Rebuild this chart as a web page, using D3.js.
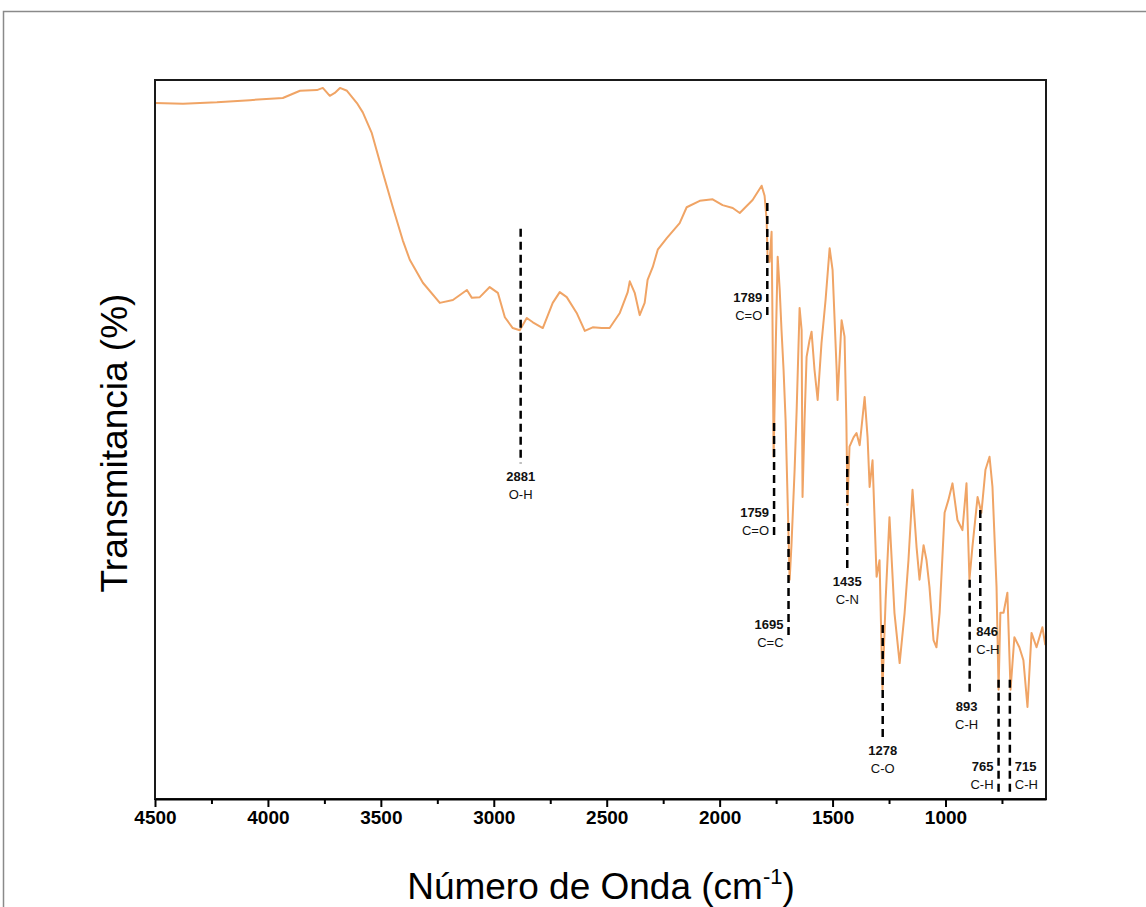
<!DOCTYPE html>
<html>
<head>
<meta charset="utf-8">
<script src="https://cdn.jsdelivr.net/npm/d3@7"></script>
<style>
  body { margin: 0; background: #fff; }
  svg { font-family: "Liberation Sans", Arial, sans-serif; }
</style>
</head>
<body>
<svg id="ftir"></svg>
<script>
let width = 1146
let height = 907
let margin = {top: 80, right: 100, bottom: 108, left: 155}

// spectrum: [wavenumber cm-1, transmittance %]
let spectrum = [
  [4500, 96.8], [4376, 96.7], [4226, 96.9], [4080, 97.2], [3934, 97.5], [3858, 98.5],
  [3783, 98.6], [3757, 98.9], [3726, 97.8], [3704, 98.2], [3681, 98.9], [3650, 98.5],
  [3606, 96.8], [3580, 95.5], [3540, 92.6], [3491, 87.1], [3447, 82.3], [3403, 77.7],
  [3372, 75.0], [3314, 71.8], [3239, 69.0], [3181, 69.4], [3119, 70.8], [3097, 69.7],
  [3062, 69.8], [3018, 71.2], [2982, 70.4], [2951, 67.0], [2916, 65.5], [2885, 65.2],
  [2854, 66.9], [2827, 66.3], [2783, 65.5], [2739, 69.0], [2708, 70.5], [2677, 69.8],
  [2633, 67.6], [2597, 65.1], [2562, 65.6], [2522, 65.5], [2487, 65.5], [2442, 67.6],
  [2407, 70.5], [2398, 72.0], [2376, 70.4], [2354, 67.3], [2332, 69.0], [2319, 72.2],
  [2296, 74.0], [2274, 76.4], [2234, 78.0], [2177, 80.1], [2146, 82.3], [2088, 83.2],
  [2031, 83.4], [1987, 82.6], [1942, 82.2], [1911, 81.5], [1854, 83.3], [1814, 85.3],
  [1801, 83.9], [1792, 80.5], [1788, 75.7], [1779, 74.7], [1770, 78.9], [1766, 66.6],
  [1761, 47.6], [1752, 62.4], [1743, 75.4], [1734, 70.8], [1726, 65.2], [1717, 59.7],
  [1708, 52.7], [1699, 41.6], [1690, 30.5], [1682, 35.3], [1668, 45.8], [1659, 54.1],
  [1646, 68.3], [1637, 65.2], [1633, 42.0], [1624, 52.7], [1615, 61.5], [1602, 63.8],
  [1593, 65.0], [1580, 59.7], [1566, 55.5], [1549, 63.4], [1531, 69.4], [1513, 76.6],
  [1500, 73.6], [1482, 59.7], [1478, 55.5], [1460, 66.6], [1447, 64.3], [1439, 52.7],
  [1434, 40.9], [1425, 49.0], [1407, 50.3], [1394, 50.9], [1380, 49.2], [1358, 55.9],
  [1345, 50.3], [1336, 43.4], [1323, 47.1], [1305, 30.9], [1292, 33.2], [1279, 15.2],
  [1265, 27.7], [1248, 39.2], [1226, 25.9], [1203, 18.9], [1181, 25.9], [1164, 33.2],
  [1146, 43.0], [1128, 35.0], [1115, 30.5], [1097, 35.3], [1084, 33.2], [1071, 29.5],
  [1053, 22.1], [1040, 21.1], [1026, 25.9], [1004, 39.8], [987, 41.6], [969, 43.9],
  [947, 38.8], [925, 37.4], [907, 43.9], [894, 30.5], [881, 35.0], [858, 42.0],
  [841, 39.8], [823, 45.8], [805, 47.6], [792, 43.4], [774, 29.5], [765, 15.2],
  [757, 25.9], [743, 25.9], [726, 28.7], [712, 15.2], [695, 22.5], [673, 21.1],
  [655, 19.3], [637, 12.8], [619, 23.1], [597, 21.1], [571, 23.9], [558, 21.4]
]

// band assignments
let peakWavenumbers = [2881, 1789, 1759, 1695, 1435, 1278, 893, 846, 765, 715]
let peakGroups = ["O-H", "C=O", "C=O", "C=C", "C-N", "C-O", "C-H", "C-H", "C-H", "C-H"]

// x ticks
let majorTicks = [4500, 4000, 3500, 3000, 2500, 2000, 1500, 1000]
let minorTicks = [4250, 3750, 3250, 2750, 2250, 1750, 1250, 750]

// placement of the marker lines (transmittance units) and label side
let markerLayout = {
  2881: {top: 79.3, bottom: 46.7, side: "below"},
  1789: {top: 82.9, bottom: 67.0, side: "left", numDy: -20},
  1759: {top: 52.3, bottom: 36.7, side: "left", numDy: -23},
  1695: {top: 38.4, bottom: 22.8, side: "left", numDy: -11},
  1435: {top: 47.7, bottom: 32.1, side: "below"},
  1278: {top: 24.2, bottom: 8.6, side: "below"},
  893:  {top: 30.5, bottom: 14.7, side: "below", dx: -3},
  846:  {top: 40.2, bottom: 24.6, side: "right", numDy: 9, dx: -9},
  765:  {top: 16.6, bottom: 0.8, side: "left", numDy: -27},
  715:  {top: 16.6, bottom: 0.8, side: "right", numDy: -27}
}

let svg = d3.select("#ftir")
    .attr("width", width)
    .attr("height", height)

// outer frame of the figure
svg.append("rect")
    .attr("x", 3.5).attr("y", 11.5)
    .attr("width", 1300).attr("height", 1000)
    .attr("fill", "none")
    .attr("stroke", "#8a8a8a")
    .attr("stroke-width", 1.5)

let xScale = d3.scaleLinear().domain([4500, 555]).range([margin.left, width - margin.right])
let yScale = d3.scaleLinear().domain([0, 100]).range([height - margin.bottom, margin.top])

let line = d3.line()
    .x(d => xScale(d[0]))
    .y(d => yScale(d[1]))

svg.append("path")
    .datum(spectrum)
    .attr("d", line)
    .attr("fill", "none")
    .attr("stroke", "#f0a465")
    .attr("stroke-width", 2)
    .attr("stroke-linejoin", "round")

// dashed markers + labels
let peaks = peakWavenumbers.map((w, i) => ({wn: w, group: peakGroups[i], lay: markerLayout[w]}))

let mk = svg.append("g").attr("id", "markers")

mk.selectAll("line")
    .data(peaks)
    .enter()
    .append("line")
    .attr("x1", d => xScale(d.wn))
    .attr("x2", d => xScale(d.wn))
    .attr("y1", d => yScale(d.lay.top))
    .attr("y2", d => yScale(d.lay.bottom))
    .attr("stroke", "#000")
    .attr("stroke-width", 2.5)
    .attr("stroke-dasharray", "8,5")

let labels = mk.selectAll(".lbl")
    .data(peaks)
    .enter()
    .append("g")
    .attr("class", "lbl")
    .attr("transform", d => {
        let x = xScale(d.wn) + (d.lay.dx || 0)
        let yb = yScale(d.lay.bottom)
        if (d.lay.side == "below") return "translate(" + x + "," + (yb + 18) + ")"
        if (d.lay.side == "left") return "translate(" + (x - 5) + "," + (yb + d.lay.numDy + 5) + ")"
        return "translate(" + (x + 5) + "," + (yb + d.lay.numDy + 5) + ")"
    })
    .attr("text-anchor", d => d.lay.side == "below" ? "middle" : (d.lay.side == "left" ? "end" : "start"))

labels.append("text")
    .text(d => d.wn)
    .attr("font-size", 13)
    .attr("font-weight", "bold")
    .attr("fill", "#111")

labels.append("text")
    .text(d => d.group)
    .attr("y", 18)
    .attr("font-size", 13)
    .attr("fill", "#111")

// plot frame
svg.append("rect")
    .attr("x", margin.left)
    .attr("y", margin.top)
    .attr("width", width - margin.left - margin.right)
    .attr("height", height - margin.top - margin.bottom)
    .attr("fill", "none")
    .attr("stroke", "#1a1a1a")
    .attr("stroke-width", 2)

// x axis
let xAxis = svg.append("g")
    .attr("id", "x_axis")
    .attr("transform", "translate(0," + (height - margin.bottom) + ")")
    .call(d3.axisBottom(xScale).tickValues(majorTicks).tickSize(8).tickSizeOuter(0)
        .tickPadding(4).tickFormat(d3.format("d")))

xAxis.select(".domain").attr("stroke-width", 2)
xAxis.selectAll(".tick line").attr("stroke-width", 2)
xAxis.selectAll("text")
    .attr("font-size", 19)
    .attr("font-weight", "bold")
    .attr("fill", "#000")

let xMinor = svg.append("g")
    .attr("transform", "translate(0," + (height - margin.bottom) + ")")
    .call(d3.axisBottom(xScale).tickValues(minorTicks).tickSize(5).tickFormat(""))
xMinor.select(".domain").remove()
xMinor.selectAll(".tick line").attr("stroke-width", 2)

// axis titles
let xTitle = svg.append("text")
    .attr("x", 601)
    .attr("y", 899)
    .attr("text-anchor", "middle")
    .attr("font-size", 37)
    .attr("fill", "#000")
xTitle.append("tspan").text("Número de Onda (cm")
xTitle.append("tspan").text("-1").attr("font-size", 22).attr("dy", -15)
xTitle.append("tspan").text(")").attr("dy", 15)

svg.append("text")
    .text("Transmitancia (%)")
    .attr("transform", "translate(127," + 443 + ") rotate(-90)")
    .attr("text-anchor", "middle")
    .attr("font-size", 37)
    .attr("fill", "#000")
</script>
</body>
</html>
